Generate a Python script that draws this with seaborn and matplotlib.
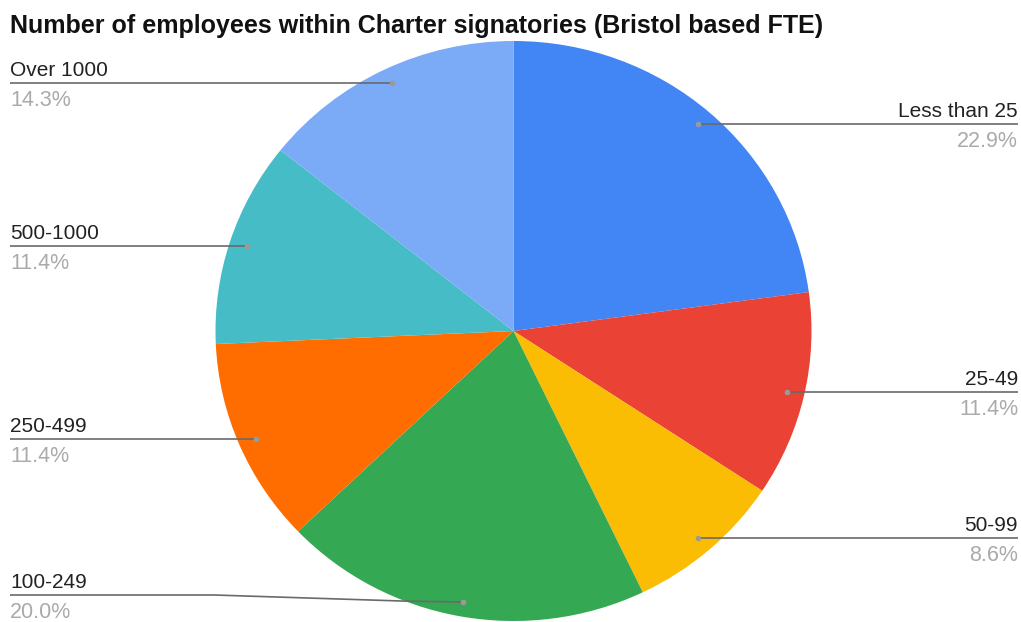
import numpy as np
import matplotlib
matplotlib.use("Agg")
import matplotlib.pyplot as plt
import seaborn as sns

# ---- data ----
categories = ["Less than 25", "25-49", "50-99", "100-249", "250-499", "500-1000", "Over 1000"]
counts = [8, 4, 3, 7, 4, 4, 5]
colors = ["#4285F4", "#EA4335", "#FBBC04", "#34A853", "#FF6D01", "#46BDC6", "#7BAAF7"]
title = "Number of employees within Charter signatories (Bristol based FTE)"

sns.set_theme(style="white")
plt.rcParams['font.family'] = ['Liberation Sans', 'DejaVu Sans']

W, H = 1021, 622
RX, RY = 298, 290          # pie radii in pixels (slightly stretched horizontally)
K = RX / RY                # y data units per pixel


def yd(py):
    """pixel row (from top) -> data y"""
    return (H - py) * K


fig = plt.figure(figsize=(W / 100, H / 100), dpi=100)
ax = fig.add_axes([0, 0, 1, 1])

cx, cy = 513.5, yd(331)
wedges, _ = ax.pie(counts, colors=colors, startangle=90, counterclock=False,
                   center=(cx, cy), radius=RX, frame=True,
                   wedgeprops=dict(linewidth=0))
ax.set_aspect("auto")
ax.set_xlim(0, W)
ax.set_ylim(0, H * K)
ax.axis("off")

total = sum(counts)
line_col = "#6a6a6a"
for w, lab, c in zip(wedges, categories, counts):
    mid = np.deg2rad((w.theta1 + w.theta2) / 2)
    dx, dy = np.cos(mid), np.sin(mid)
    px, py = cx + 0.94 * RX * dx, cy + 0.95 * RX * dy
    ly = max(py, yd(595))
    right = dx > 0
    xe = W - 3 if right else 10
    if ly != py:
        xs = [xe, xe + (px - xe) * 0.45, px - 60, px]
        ys = [ly, ly, py + 1 * K, py]
    else:
        xs = [xe, px]
        ys = [ly, py]
    ax.plot(xs, ys, color=line_col, lw=1.2, solid_capstyle="butt")
    ax.plot([px], [py], "o", color="#9a9a9a", ms=4, mec="none")
    ha = "right" if right else "left"
    ax.text(xe, ly + 7 * K, lab, ha=ha, va="baseline", fontsize=15, color="#222222")
    ax.text(xe, ly - 7 * K, f"{100 * c / total:.1f}%", ha=ha, va="top",
            fontsize=15.5, color="#aaaaaa")

ax.text(10, yd(33), title, ha="left", va="baseline", fontsize=18,
        fontweight="bold", color="#111111")

fig.savefig("out.png", dpi=100)
